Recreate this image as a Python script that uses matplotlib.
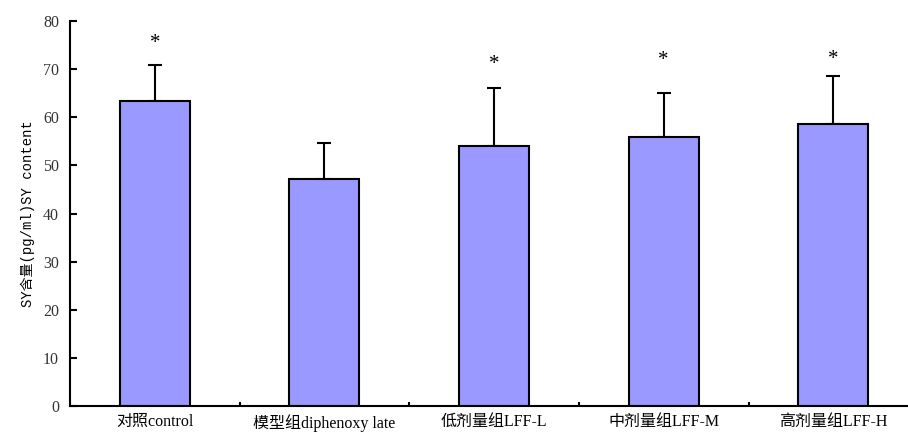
import matplotlib.pyplot as plt
import numpy as np

# grupos e valores
grupos = ['对照control', '模型组diphenoxy late', '低剂量组LFF-L', '中剂量组LFF-M', '高剂量组LFF-H']
medias = [63.4, 47.2, 54.1, 55.9, 58.6]
erros = [7.5, 7.5, 12.0, 9.2, 10.0]
# posicao (em y) dos asteriscos, '' = sem marca
marcas = ['*', '', '*', '*', '*']
y_marcas = [75.3, 0, 71.0, 71.8, 72.0]

plt.rcParams['font.family'] = ['Liberation Serif', 'Noto Sans CJK SC']

fig = plt.figure(figsize=(9.08, 4.34), dpi=100)
ax = fig.add_axes([0.0771, 0.0645, 0.9229, 0.887])

x = np.arange(len(grupos))
ax.bar(x, medias, width=0.413, color='#9999FF', edgecolor='black', linewidth=1.5, zorder=2)
ax.errorbar(x, medias, yerr=[np.zeros(len(erros)), erros], fmt='none', ecolor='black',
            elinewidth=1.5, capsize=5, capthick=1.5, zorder=1)

for i in range(len(grupos)):
    if marcas[i]:
        ax.text(x[i], y_marcas[i], marcas[i], ha='center', va='center', fontsize=15)

ax.set_xlim(-0.5, 4.44)
ax.set_ylim(0, 80)
ax.set_yticks(np.arange(0, 81, 10))
ax.set_xticks(x)
ax.set_xticklabels(grupos, fontsize=11.5)
ax.set_xticks(x[:-1] + 0.5, minor=True)
ax.tick_params(axis='x', which='major', length=0, pad=6)
ax.tick_params(axis='x', which='minor', direction='in', length=3, width=1.5)
ax.tick_params(axis='y', direction='in', length=5, width=1.5, labelsize=11.5, pad=8)
for lab in ax.get_yticklabels():
    lab.set_color('#333333')

ax.set_ylabel('SY含量(pg/ml)SY content', fontsize=10,
              family=['Liberation Mono', 'Noto Sans CJK SC'], labelpad=6)

ax.spines['top'].set_visible(False)
ax.spines['right'].set_visible(False)
ax.spines['left'].set_linewidth(1.5)
ax.spines['bottom'].set_linewidth(1.5)

plt.savefig('out.png', dpi=100)
